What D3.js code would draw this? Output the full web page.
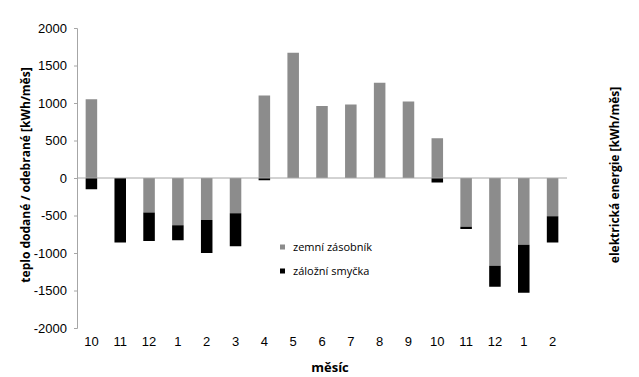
<!DOCTYPE html>
<html>
<head>
<meta charset="utf-8">
<script src="https://cdn.jsdelivr.net/npm/d3@7"></script>
<style>
  body { margin: 0; background: #fff; }
  svg { display: block; font-family: "Open Sans", sans-serif; }
</style>
</head>
<body>
<div id="chart"></div>
<script>
// měsíce (dva roky, od října do února)
const months = ["10", "11", "12", "1", "2", "3", "4", "5", "6", "7", "8", "9", "10", "11", "12", "1", "2"]
// zemní zásobník [kWh/měs]
const ground = [1050, 0, -460, -630, -560, -470, 1100, 1670, 960, 980, 1270, 1020, 530, -650, -1170, -890, -510]
// záložní smyčka [kWh/měs]
const backup = [-150, -860, -380, -200, -440, -440, -30, 0, 0, 0, 0, 0, -60, -30, -280, -640, -350]
const yTicks = [-2000, -1500, -1000, -500, 0, 500, 1000, 1500, 2000]

const width = 639, height = 377
const margin = { top: 28, right: 72, bottom: 49, left: 77 }
const chartWidth = width - margin.left - margin.right
const chartHeight = height - margin.top - margin.bottom

const svg = d3.select("#chart")
    .append("svg")
    .attr("width", width)
    .attr("height", height)
    .attr("viewBox", [0, 0, width, height])

const g = svg.append("g")
    .attr("transform", `translate(${margin.left},${margin.top})`)

const rows = months.map((m, i) => ({ key: i, month: m, ground: ground[i], backup: backup[i] }))
const series = d3.stack()
    .keys(["ground", "backup"])
    .offset(d3.stackOffsetDiverging)(rows)

// Escalas
const x = d3.scaleBand()
    .domain(rows.map(d => d.key))
    .range([0, chartWidth])
    .paddingInner(0.6)
    .paddingOuter(0.3)

const y = d3.scaleLinear()
    .domain([-2000, 2000])
    .range([chartHeight, 0])

const color = { ground: "#8c8c8c", backup: "#000000" }

// Eje Y
g.append("g")
    .call(d3.axisLeft(y).tickValues(yTicks).tickFormat(d => String(d)).tickSize(3).tickPadding(7))
    .call(g => g.select(".domain").attr("stroke", "#a6a6a6"))
    .call(g => g.selectAll(".tick line").attr("stroke", "#a6a6a6"))
    .call(g => g.selectAll(".tick text").attr("fill", "#000").style("font-size", "13px"))

// Barras
g.selectAll("g.series")
    .data(series)
    .join("g")
    .attr("class", "series")
    .attr("fill", d => color[d.key])
    .selectAll("rect")
    .data(d => d)
    .join("rect")
    .attr("x", d => x(d.data.key))
    .attr("width", x.bandwidth())
    .attr("y", d => y(Math.max(d[0], d[1])))
    .attr("height", d => Math.abs(y(d[0]) - y(d[1])))

// Línea cero
g.append("line")
    .attr("x1", 0)
    .attr("x2", chartWidth)
    .attr("y1", y(0))
    .attr("y2", y(0))
    .attr("stroke", "#a6a6a6")

// Eje X (etiquetas)
g.append("g")
    .attr("transform", `translate(0,${chartHeight})`)
    .call(d3.axisBottom(x).tickFormat(i => months[i]).tickSize(0).tickPadding(9))
    .call(g => g.select(".domain").remove())
    .call(g => g.selectAll(".tick text").attr("fill", "#000").style("font-size", "13px"))

// Títulos
g.append("text")
    .attr("x", chartWidth / 2 + 8)
    .attr("y", chartHeight + 44)
    .attr("text-anchor", "middle")
    .style("font-size", "13px")
    .style("font-weight", "bold")
    .text("měsíc")

svg.append("text")
    .attr("transform", `translate(30,${margin.top + chartHeight / 2 - 3}) rotate(-90)`)
    .attr("text-anchor", "middle")
    .style("font-size", "12px")
    .style("font-weight", "bold")
    .text("teplo dodané / odebrané [kWh/měs]")

svg.append("text")
    .attr("transform", `translate(619,175) rotate(-90)`)
    .attr("text-anchor", "middle")
    .style("font-size", "12px")
    .style("font-weight", "bold")
    .text("elektrická energie [kWh/měs]")

// Leyenda
const legend = svg.append("g")
    .attr("transform", "translate(280,247)")
const legendItems = [
    { key: "ground", label: "zemní zásobník" },
    { key: "backup", label: "záložní smyčka" }
]
const li = legend.selectAll("g")
    .data(legendItems)
    .join("g")
    .attr("transform", (d, i) => `translate(0,${i * 24})`)
li.append("rect")
    .attr("x", 0)
    .attr("y", -2.5)
    .attr("width", 5)
    .attr("height", 5)
    .attr("fill", d => color[d.key])
li.append("text")
    .attr("x", 13)
    .attr("dy", "0.35em")
    .style("font-size", "11px")
    .text(d => d.label)
</script>
</body>
</html>
